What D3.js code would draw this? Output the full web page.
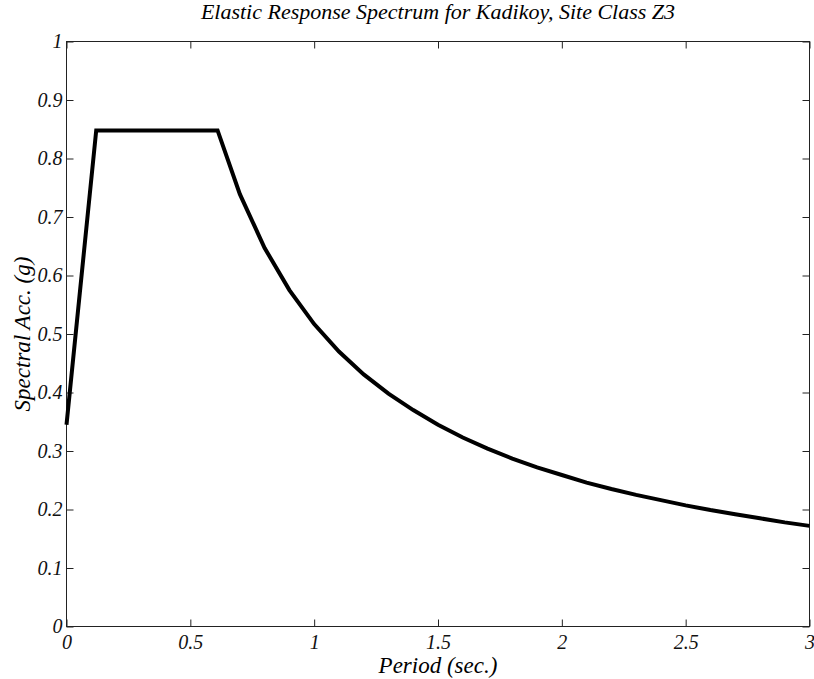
<!DOCTYPE html>
<html>
<head>
<meta charset="utf-8">
<script src="https://cdn.jsdelivr.net/npm/d3@7"></script>
<style>
  body { margin: 0; background: #fff; }
  text { font-family: "Liberation Serif", "DejaVu Serif", serif; font-style: italic; }
</style>
</head>
<body>
<div id="chart"></div>
<script>
// spectrum
var periods = [0, 0.12, 0.61, 0.7, 0.8, 0.9, 1.0, 1.1, 1.2, 1.3, 1.4, 1.5, 1.6, 1.7, 1.8, 1.9,
  2.0, 2.1, 2.2, 2.3, 2.4, 2.5, 2.6, 2.7, 2.8, 2.9, 3.0];
var accel = [0.345, 0.848, 0.848, 0.739, 0.647, 0.575, 0.517, 0.470, 0.431, 0.398, 0.370, 0.345,
  0.323, 0.304, 0.287, 0.272, 0.259, 0.246, 0.235, 0.225, 0.216, 0.207, 0.199, 0.192,
  0.185, 0.178, 0.172];
var xTicks = [0, 0.5, 1, 1.5, 2, 2.5, 3];
var yTicks = [0, 0.1, 0.2, 0.3, 0.4, 0.5, 0.6, 0.7, 0.8, 0.9, 1];
var title = 'Elastic Response Spectrum for Kadikoy, Site Class Z3';

var W = 814, H = 679;
var m = { left: 66.5, right: 4.5, top: 41.5, bottom: 52.5 };
var w = W - m.left - m.right, h = H - m.top - m.bottom;

var svg = d3.select('#chart').append('svg').attr('width', W).attr('height', H);
var g = svg.append('g').attr('transform', 'translate(' + m.left + ',' + m.top + ')');

var x = d3.scaleLinear().domain([0, 3]).range([0, w]);
var y = d3.scaleLinear().domain([0, 1]).range([h, 0]);

var fmt = function(d) { return String(d); };

function styleAxis(sel, noLabels) {
  sel.select('.domain').remove();
  sel.selectAll('.tick line').attr('stroke', '#222').attr('stroke-width', 1);
  sel.selectAll('.tick text').attr('fill', '#111').style('font-size', '20px');
  if (noLabels) sel.selectAll('.tick text').remove();
}

g.append('g').attr('transform', 'translate(0,' + h + ')')
  .call(d3.axisBottom(x).tickValues(xTicks).tickSize(-7).tickPadding(8).tickFormat(fmt))
  .call(styleAxis);
g.append('g')
  .call(d3.axisTop(x).tickValues(xTicks).tickSize(-7))
  .call(styleAxis, true);
g.append('g')
  .call(d3.axisLeft(y).tickValues(yTicks).tickSize(-7).tickPadding(4).tickFormat(fmt))
  .call(styleAxis);
g.append('g').attr('transform', 'translate(' + w + ',0)')
  .call(d3.axisRight(y).tickValues(yTicks).tickSize(-7))
  .call(styleAxis, true);

g.append('rect').attr('width', w).attr('height', h)
  .attr('fill', 'none').attr('stroke', '#222').attr('stroke-width', 1);

var pts = periods.map(function(p, i) { return [p, accel[i]]; });
g.append('path').datum(pts)
  .attr('fill', 'none').attr('stroke', '#000').attr('stroke-width', 4)
  .attr('stroke-linejoin', 'miter')
  .attr('d', d3.line().x(function(d) { return x(d[0]); }).y(function(d) { return y(d[1]); }));

svg.append('text').attr('x', m.left + w / 2).attr('y', 19)
  .attr('text-anchor', 'middle').style('font-size', '22px').text(title);
svg.append('text').attr('x', m.left + w / 2).attr('y', 673)
  .attr('text-anchor', 'middle').style('font-size', '23px').text('Period (sec.)');
svg.append('text').attr('transform', 'translate(30,' + (m.top + h / 2) + ') rotate(-90)')
  .attr('text-anchor', 'middle').style('font-size', '23px').text('Spectral Acc. (g)');
</script>
</body>
</html>
